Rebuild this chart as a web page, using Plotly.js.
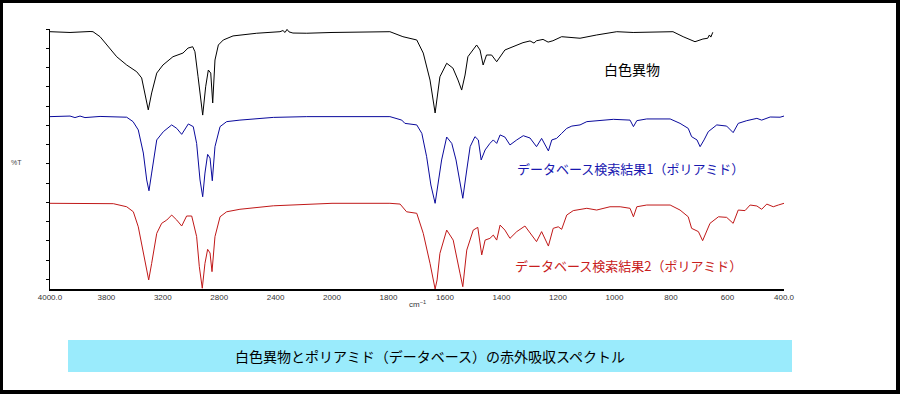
<!DOCTYPE html>
<html>
<head>
<meta charset="utf-8">
<script src="https://cdn.plot.ly/plotly-3.0.1.min.js"></script>
<style>html,body{margin:0;padding:0;background:#fff;}#chart{width:900px;height:394px;}</style>
</head>
<body>
<div id="chart"></div>
<script>
// Wavenumber (cm-1) and offset %T values
const sampleWn = [4000,3858,3716,3695,3645,3598,3527,3456,3385,3350,3326,3303,3279,3243,3199,3128,3057,3021,2988,2972,2950,2917,2896,2877,2860,2846,2830,2806,2771,2702,2534,2404,2369,2348,2333,2319,2305,2277,2179,2000,
  1936,1795,1749,1700,1677,1653,1635,1618,1594,1572,1554,1541,1529,1519,1488,1476,1465,1453,1435,1417,1388,1359,1324,1299,1285,1276,1253,1235,1218,1187,1157,1122,1063,992,934,793,757,715,687,670,664,659,652];
const sampleT = [133.6,133.2,133.7,133.6,131.0,126.7,120.6,116.3,112.8,109.6,101.8,93.0,101.8,112.1,116.3,120.6,122.5,125.1,125.8,123.2,110.2,90.3,105.0,113.7,112.1,96.6,118.9,126.7,129.3,131.4,132.8,133.2,133.6,134.2,133.2,134.8,133.5,132.9,132.8,133.2,
  133.4,133.6,131.0,129.3,122.5,108.5,91.4,110.2,117.2,114.7,108.5,103.3,111.1,120.6,126.7,124.1,116.3,121.5,121.5,118.0,124.1,125.8,127.9,128.8,127.7,128.9,129.6,128.2,128.9,131.0,130.8,130.2,131.9,133.6,133.2,133.6,131.0,128.4,129.8,130.2,131.9,130.8,133.3];

const db1Wn = [4000,3858,3823,3787,3752,3645,3456,3411,3374,3338,3314,3298,3279,3243,3196,3137,3101,3066,3019,2984,2960,2936,2917,2901,2882,2865,2849,2830,2794,2747,2653,2416,2179,2000,
  1830,1795,1753,1742,1700,1682,1665,1650,1635,1612,1594,1576,1561,1547,1537,1523,1511,1494,1482,1472,1458,1441,1429,1417,1405,1388,1370,1346,1323,1299,1276,1258,1234,1222,1205,1187,1169,1151,1122,1098,1063,1004,945,933,921,886,803,768,739,727,708,697,683,668,638,603,580,562,532,496,479,449,414,400];
const db1T = [89.5,89.8,89.0,89.8,89.0,89.6,89.2,86.9,82.6,70.6,56.6,51.0,60.2,77.4,81.7,85.2,83.4,80.3,85.7,84.3,75.6,56.6,47.9,60.2,69.9,68.0,56.2,73.9,84.3,86.9,87.7,89.1,89.5,89.5,
  89.5,89.5,87.7,86.0,85.2,80.8,68.7,54.0,44.5,67.0,78.9,75.6,67.0,54.0,47.1,61.8,73.9,79.1,77.4,67.0,72.2,75.6,77.4,75.6,80.0,78.9,74.8,77.4,79.6,78.4,73.9,78.2,71.7,77.4,78.2,80.8,83.4,84.6,85.2,86.9,87.4,88.1,87.7,84.3,87.4,88.3,88.3,86.0,83.4,79.1,77.4,73.9,77.4,81.7,85.2,84.6,81.2,86.0,87.4,88.6,87.7,89.3,89.2,89.8];

const db2Wn = [4000,3551,3456,3409,3374,3338,3314,3300,3279,3243,3208,3172,3137,3101,3066,3031,2995,2960,2941,2920,2901,2882,2865,2851,2830,2794,2747,2653,2416,2179,2000,
  1795,1759,1736,1700,1677,1653,1642,1635,1628,1618,1594,1571,1547,1537,1523,1500,1484,1476,1470,1458,1441,1429,1417,1405,1388,1370,1346,1317,1293,1276,1258,1234,1217,1199,1187,1169,1146,1098,1063,1016,980,945,933,921,886,803,768,739,727,703,688,662,632,603,580,562,538,520,496,479,461,438,420,400];
const db2T = [44.5,44.3,42.7,40.1,32.3,18.5,8.2,4.7,13.3,28.9,34.1,35.8,38.4,35.8,32.7,37.9,37.9,27.2,11.6,0.4,13.3,20.6,18.7,9.0,27.2,37.5,40.1,41.4,43.2,44.1,44.5,
  44.5,44.1,40.1,39.3,28.9,13.3,4.7,0.0,4.7,18.5,30.6,25.4,8.2,1.2,20.2,30.6,32.0,22.0,17.7,25.4,26.3,28.0,25.4,33.2,30.6,26.3,29.8,32.7,28.0,24.6,29.8,22.3,31.5,32.3,31.0,38.4,40.7,41.9,41.0,42.7,42.7,41.9,37.5,42.7,43.6,43.6,41.0,37.5,31.5,29.8,25.1,34.1,37.5,37.2,34.1,41.0,40.7,43.6,43.1,41.4,44.1,42.7,43.6,44.5];

const leftTickVals = [4000,3600,3200,2800,2400,2000];
const leftTickText = ["4000.0","3800","3200","2800","2400","2000"];
const rightTickVals = [1800,1600,1400,1200,1000,800,600,400];
const rightTickText = ["1800","1600","1400","1200","1000","800","600","400.0"];

const series = [
  {wn: sampleWn, t: sampleT, color: "#000000"},
  {wn: db1Wn, t: db1T, color: "#0a0a9c"},
  {wn: db2Wn, t: db2T, color: "#c01818"}
];

const traces = [];
series.forEach(s => {
  const lx=[], ly=[], rx=[], ry=[];
  s.wn.forEach((w,i) => {
    if (w >= 2000) { lx.push(w); ly.push(s.t[i]); }
    if (w <= 2000) { rx.push(w); ry.push(s.t[i]); }
  });
  traces.push({x: lx, y: ly, xaxis: "x", yaxis: "y", mode: "lines", line: {color: s.color, width: 1}, hoverinfo: "skip"});
  traces.push({x: rx, y: ry, xaxis: "x2", yaxis: "y", mode: "lines", line: {color: s.color, width: 1}, hoverinfo: "skip"});
});

// plot area: left 50, right 784, top 29, bottom 289
const L=50, R=784, T=29, B=289, W=R-L, H=B-T;
const px = x => (x - L) / W;
const py = y => (B - y) / H;
const split = (332 - L) / W;

const tickFont = {family: "Liberation Sans, Arial, sans-serif", size: 8, color: "#333"};
const jp = "Noto Sans CJK JP, sans-serif";
const ann = (x, y, text, font) => ({xref: "paper", yref: "paper", x: px(x), y: py(y), xanchor: "center", yanchor: "middle", text: text, showarrow: false, font: font});

const layout = {
  width: 900, height: 394,
  margin: {l: L, r: 900 - R, t: T, b: 394 - B},
  paper_bgcolor: "#fff", plot_bgcolor: "#fff",
  showlegend: false,
  xaxis: {domain: [0, split], range: [4000, 2000], showgrid: false, zeroline: false, showline: true, linecolor: "#000", linewidth: 1.5,
    tickmode: "array", tickvals: leftTickVals, ticktext: leftTickText, ticks: "", tickfont: tickFont, anchor: "y"},
  xaxis2: {domain: [split, 1], range: [2000, 400], showgrid: false, zeroline: false, showline: true, linecolor: "#000", linewidth: 1.5,
    tickmode: "array", tickvals: rightTickVals, ticktext: rightTickText, ticks: "", tickfont: tickFont, anchor: "y"},
  yaxis: {range: [0, 135], showgrid: false, zeroline: false, showline: true, linecolor: "#000", linewidth: 1,
    tickmode: "linear", tick0: 5, dtick: 10, ticks: "outside", ticklen: 3, tickcolor: "#000", showticklabels: false},
  shapes: [
    {type: "rect", xref: "paper", yref: "paper", x0: px(68), x1: px(792), y0: py(372), y1: py(340), fillcolor: "#9aebfc", line: {width: 0}, layer: "below"},
    {type: "rect", xref: "paper", yref: "paper", x0: px(0), x1: px(3), y0: py(394), y1: py(0), fillcolor: "#000", line: {width: 0}},
    {type: "rect", xref: "paper", yref: "paper", x0: px(896), x1: px(900), y0: py(394), y1: py(0), fillcolor: "#000", line: {width: 0}},
    {type: "rect", xref: "paper", yref: "paper", x0: px(0), x1: px(900), y0: py(3), y1: py(0), fillcolor: "#000", line: {width: 0}},
    {type: "rect", xref: "paper", yref: "paper", x0: px(0), x1: px(900), y0: py(394), y1: py(390), fillcolor: "#000", line: {width: 0}}
  ],
  annotations: [
    ann(16, 162, "%T", {family: tickFont.family, size: 7, color: "#444"}),
    ann(417, 304, "cm<sup>−1</sup>", {family: tickFont.family, size: 8, color: "#333"}),
    ann(632, 69, "白色異物", {family: jp, size: 14, color: "#000"}),
    ann(630, 168, "データベース検索結果1（ポリアミド）", {family: jp, size: 13, color: "#1818b0"}),
    ann(628, 265, "データベース検索結果2（ポリアミド）", {family: jp, size: 13, color: "#c82020"}),
    ann(430, 356, "白色異物とポリアミド（データベース）の赤外吸収スペクトル", {family: jp, size: 14, color: "#000"})
  ]
};

Plotly.newPlot("chart", traces, layout, {staticPlot: true, displayModeBar: false});
</script>
</body>
</html>
